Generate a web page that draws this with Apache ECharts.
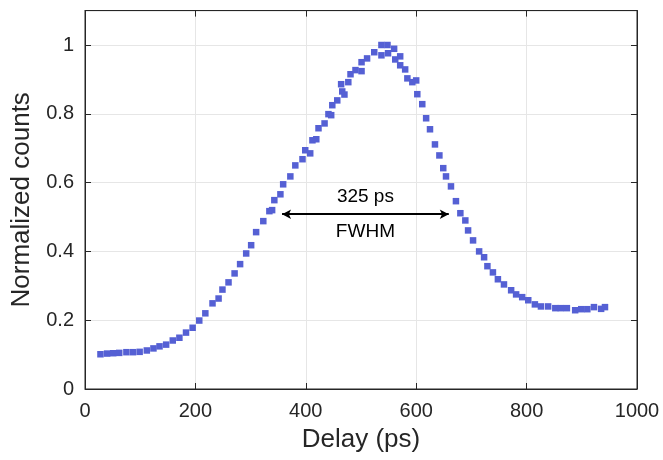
<!DOCTYPE html>
<html>
<head>
<meta charset="utf-8">
<script src="https://cdn.jsdelivr.net/npm/echarts@6/dist/echarts.min.js"></script>
<style>
  html, body { margin: 0; padding: 0; background: #fff; }
  #chart { width: 663px; height: 460px; }
</style>
</head>
<body>
<div id="chart"></div>
<script>
const delay = [28, 40, 51, 62, 75, 87, 99, 112, 124, 135, 147, 159, 171, 183, 195, 207, 218, 231, 242, 249,
  260, 271, 281, 292, 301, 310, 323, 334, 339, 343, 354, 359, 372, 381, 394, 399, 408, 412, 419, 423,
  434, 441, 446, 448, 457, 464, 466, 470, 477, 481, 490, 501, 501, 511, 524, 537, 537, 548, 549, 560,
  562, 571, 571, 580, 584, 593, 600, 602, 611, 618, 625, 634, 642, 649, 654, 663, 672, 680, 689, 694,
  703, 714, 723, 729, 739, 748, 759, 772, 781, 792, 803, 815, 826, 839, 852, 862, 873, 888, 899, 910,
  922, 935, 942];
const counts = [0.101, 0.103, 0.104, 0.105, 0.107, 0.107, 0.108, 0.112, 0.118, 0.124, 0.129, 0.141, 0.149, 0.164, 0.178, 0.199, 0.220, 0.249, 0.263, 0.289,
  0.310, 0.336, 0.363, 0.394, 0.418, 0.456, 0.488, 0.517, 0.520, 0.549, 0.566, 0.595, 0.618, 0.650, 0.668, 0.694, 0.685, 0.723, 0.726, 0.758,
  0.772, 0.799, 0.796, 0.825, 0.839, 0.886, 0.865, 0.856, 0.892, 0.915, 0.927, 0.924, 0.950, 0.961, 0.979, 0.970, 1.0, 1.0, 0.976, 0.989,
  0.958, 0.967, 0.941, 0.929, 0.903, 0.892, 0.897, 0.857, 0.828, 0.787, 0.755, 0.711, 0.679, 0.642, 0.618, 0.589, 0.546, 0.511, 0.490, 0.461,
  0.432, 0.400, 0.383, 0.357, 0.339, 0.319, 0.304, 0.287, 0.275, 0.267, 0.258, 0.246, 0.240, 0.240, 0.235, 0.235, 0.235, 0.229, 0.232, 0.232,
  0.238, 0.233, 0.238];
const xTicks = [0, 200, 400, 600, 800, 1000];
const yTicks = [0, 0.2, 0.4, 0.6, 0.8, 1];
// FWHM arrow ends and its labels
const fwhmStart = [357, 0.508];
const fwhmEnd = [659, 0.508];
const fwhmLabels = [['325 ps', 508, 0.558], ['FWHM', 508, 0.457]];

const axisColor = '#262626';
const fontFamily = "'Liberation Sans', Arial, Helvetica, sans-serif";

const chart = echarts.init(document.getElementById('chart'));

const baseX = {
  type: 'value',
  min: xTicks[0],
  max: xTicks[xTicks.length - 1],
  interval: 200,
  axisLine: { show: true, onZero: false, lineStyle: { color: axisColor, width: 1 } },
  axisTick: { show: true, inside: true, length: 6, lineStyle: { color: axisColor, width: 1 } },
  splitLine: { show: false }
};
const baseY = {
  type: 'value',
  min: 0,
  max: 1.1,
  interval: 0.2,
  axisLine: { show: true, onZero: false, lineStyle: { color: axisColor, width: 1 } },
  axisTick: { show: true, inside: true, length: 6, lineStyle: { color: axisColor, width: 1 } },
  splitLine: { show: false }
};

const option = {
  animation: false,
  backgroundColor: '#fff',
  textStyle: { fontFamily: fontFamily },
  grid: {
    left: 85,
    right: 26,
    top: 10.6,
    bottom: 71,
    show: true,
    borderColor: axisColor,
    borderWidth: 1
  },
  xAxis: [
    Object.assign({}, baseX, {
      position: 'bottom',
      name: 'Delay (ps)',
      nameLocation: 'middle',
      nameGap: 38,
      nameTextStyle: { fontSize: 26, color: axisColor, fontFamily: fontFamily },
      axisLabel: {
        fontSize: 20, color: axisColor, margin: 12, fontFamily: fontFamily,
        formatter: v => String(v)
      },
      splitLine: { show: true, lineStyle: { color: '#e6e6e6', width: 1 } }
    }),
    Object.assign({}, baseX, { position: 'top', axisLabel: { show: false } })
  ],
  yAxis: [
    Object.assign({}, baseY, {
      position: 'left',
      name: 'Normalized counts',
      nameLocation: 'middle',
      nameGap: 44,
      nameTextStyle: { fontSize: 26, color: axisColor, fontFamily: fontFamily },
      axisLabel: {
        fontSize: 20, color: axisColor, margin: 11, fontFamily: fontFamily,
        showMaxLabel: false,
        formatter: v => (yTicks.some(t => Math.abs(t - v) < 1e-9) ? String(+v.toFixed(1)) : '')
      },
      splitLine: { show: true, lineStyle: { color: '#e6e6e6', width: 1 } }
    }),
    Object.assign({}, baseY, { position: 'right', axisLabel: { show: false } })
  ],
  series: [
    {
      type: 'scatter',
      symbol: 'rect',
      symbolSize: 6.5,
      itemStyle: { color: '#5560d4', opacity: 1 },
      data: delay.map((d, i) => [d, counts[i]]),
      markLine: {
        silent: true,
        symbol: ['arrow', 'arrow'],
        symbolSize: [7, 9],
        label: { show: false },
        lineStyle: { color: '#000', width: 2, type: 'solid', opacity: 1 },
        data: [[{ coord: fwhmStart }, { coord: fwhmEnd }]]
      }
    },
    {
      type: 'scatter',
      symbolSize: 0,
      silent: true,
      itemStyle: { opacity: 1 },
      data: fwhmLabels.map(l => ({ value: [l[1], l[2]], name: l[0] })),
      label: {
        show: true,
        position: 'inside',
        formatter: p => p.name,
        fontSize: 19,
        color: '#000',
        opacity: 1,
        fontFamily: fontFamily
      }
    }
  ]
};

chart.setOption(option);
</script>
</body>
</html>
